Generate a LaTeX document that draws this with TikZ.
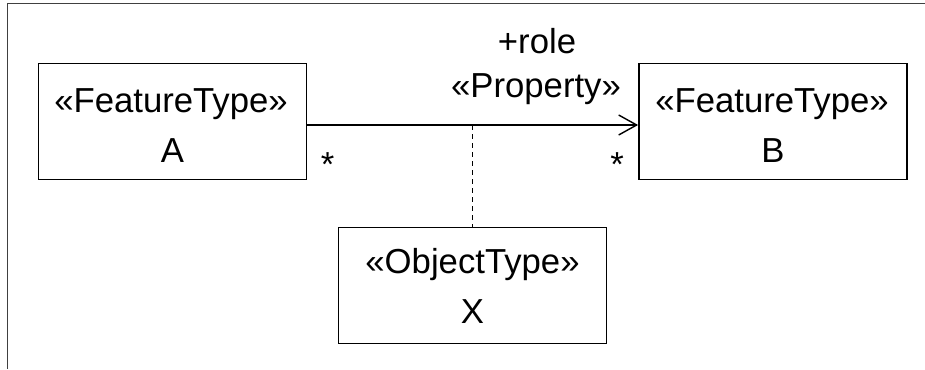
\documentclass[tikz,border=0pt]{standalone}
\usepackage{fontspec}
\setmainfont{Liberation Sans}
\usetikzlibrary{arrows.meta}
\begin{document}
\begin{tikzpicture}[x=1pt,y=-1pt,
  box/.style={draw=black, line width=1.8pt, minimum width=268pt, minimum height=116pt, inner sep=0pt},
  txt/.style={anchor=base, inner sep=0pt, font=\fontsize{34.7}{42}\selectfont},
  assoc/.style={line width=1.4pt, -{Straight Barb[length=18pt,width=20pt,line width=1.4pt]}},
  dep/.style={line width=1.6pt, dash pattern=on 5pt off 4pt},
  frame/.style={draw=black!75, line width=1pt}]
\useasboundingbox (0,0) rectangle (925,369);
\draw[frame] (925,4) -- (7.5,4) -- (7.5,369);
\node[box] (A) at (172.5,121.5) {};
\node[box] (B) at (773,121.5) {};
\node[box] (X) at (472.5,285.5) {};
\node[txt] (Atype) at (171,112) {«FeatureType»};
\node[txt] (Aname) at (172.5,162) {A};
\node[txt] (Btype) at (772,112) {«FeatureType»};
\node[txt] (Bname) at (773,162) {B};
\node[txt] (Xtype) at (472.5,273) {«ObjectType»};
\node[txt] (Xname) at (472.5,323) {X};
\node[txt] (role) at (537,53) {+role};
\node[txt] (prop) at (536,97) {«Property»};
\coordinate (As) at ([yshift=-3.5pt]A.east);
\coordinate (Bw) at ([yshift=-3.5pt]B.west);
\draw[assoc] (As) -- (Bw);
\coordinate (M) at (As -| X.north);
\draw[dep] (M) -- (X.north);
\node[txt] (ma) at (327.5,176) {*};
\node[txt] (mb) at (617,176) {*};
\end{tikzpicture}
\end{document}
